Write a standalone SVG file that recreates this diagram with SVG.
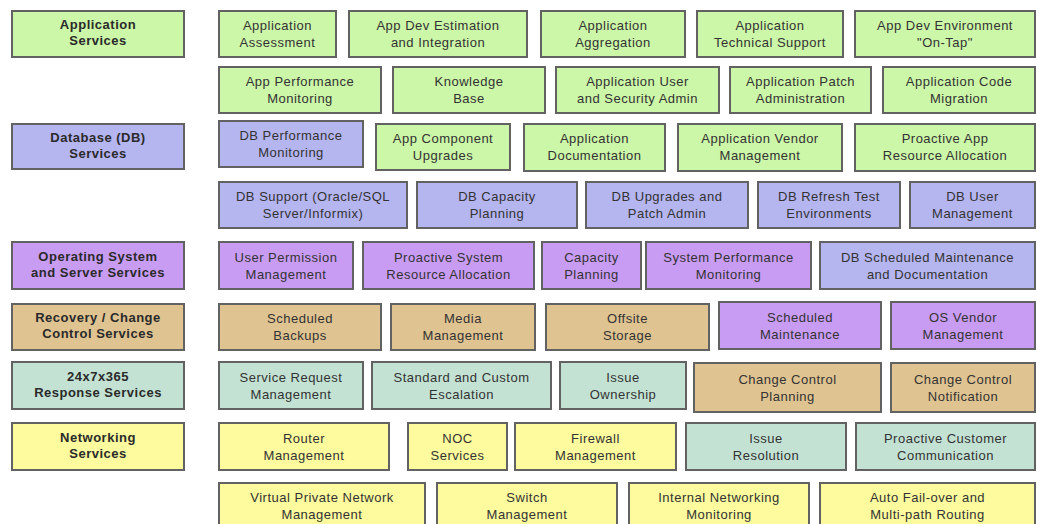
<svg xmlns="http://www.w3.org/2000/svg" width="1037" height="524" viewBox="0 0 1037 524">
<style>
rect{stroke:#626262;stroke-width:2}
.g{fill:#ccf6a8}.b{fill:#b5b5f0}.p{fill:#c99cf4}.t{fill:#dfc391}.c{fill:#c3e2d3}.y{fill:#fdfb9e}
text{font-family:"Liberation Sans",Arial,sans-serif;font-size:13px;letter-spacing:0.5px;fill:#333;text-anchor:middle}
.h{font-weight:bold;fill:#2a2a2a}
</style>
<rect x="0" y="0" width="1037" height="524" fill="#fff" style="stroke:none"/>
<g id="hdr-app"><rect class="g" x="12" y="11" width="172" height="46"/><text class="h" x="98" y="29">Application<tspan x="98" dy="16">Services</tspan></text></g>
<g id="hdr-db"><rect class="b" x="12" y="124" width="172" height="45"/><text class="h" x="98" y="142">Database (DB)<tspan x="98" dy="16">Services</tspan></text></g>
<g id="hdr-os"><rect class="p" x="12" y="242" width="172" height="47"/><text class="h" x="98" y="261">Operating System<tspan x="98" dy="16">and Server Services</tspan></text></g>
<g id="hdr-rec"><rect class="t" x="12" y="304" width="172" height="46"/><text class="h" x="98" y="322">Recovery / Change<tspan x="98" dy="16">Control Services</tspan></text></g>
<g id="hdr-resp"><rect class="c" x="12" y="362" width="172" height="47"/><text class="h" x="98" y="381">24x7x365<tspan x="98" dy="16">Response Services</tspan></text></g>
<g id="hdr-net"><rect class="y" x="12" y="423" width="172" height="47"/><text class="h" x="98" y="442">Networking<tspan x="98" dy="16">Services</tspan></text></g>

<g id="n-app-assess"><rect class="g" x="219" y="11" width="117" height="46"/><text x="277.5" y="30">Application<tspan x="277.5" dy="17">Assessment</tspan></text></g>
<g id="n-app-est"><rect class="g" x="349" y="11" width="178" height="46"/><text x="438" y="30">App Dev Estimation<tspan x="438" dy="17">and Integration</tspan></text></g>
<g id="n-app-agg"><rect class="g" x="541" y="11" width="144" height="46"/><text x="613" y="30">Application<tspan x="613" dy="17">Aggregation</tspan></text></g>
<g id="n-app-tech"><rect class="g" x="697" y="11" width="146" height="46"/><text x="770" y="30">Application<tspan x="770" dy="17">Technical Support</tspan></text></g>
<g id="n-app-env"><rect class="g" x="855" y="11" width="180" height="46"/><text x="945" y="30">App Dev Environment<tspan x="945" dy="17">"On-Tap"</tspan></text></g>

<g id="n-app-perf"><rect class="g" x="219" y="67" width="162" height="46"/><text x="300" y="86">App Performance<tspan x="300" dy="17">Monitoring</tspan></text></g>
<g id="n-kb"><rect class="g" x="393" y="67" width="152" height="46"/><text x="469" y="86">Knowledge<tspan x="469" dy="17">Base</tspan></text></g>
<g id="n-app-user"><rect class="g" x="556" y="67" width="163" height="46"/><text x="637.5" y="86">Application User<tspan x="637.5" dy="17">and Security Admin</tspan></text></g>
<g id="n-app-patch"><rect class="g" x="730" y="67" width="141" height="46"/><text x="800.5" y="86">Application Patch<tspan x="800.5" dy="17">Administration</tspan></text></g>
<g id="n-app-code"><rect class="g" x="883" y="67" width="152" height="46"/><text x="959" y="86">Application Code<tspan x="959" dy="17">Migration</tspan></text></g>

<g id="n-db-perf"><rect class="b" x="219" y="121" width="144" height="46"/><text x="291" y="140">DB Performance<tspan x="291" dy="17">Monitoring</tspan></text></g>
<g id="n-app-comp"><rect class="g" x="376" y="124" width="134" height="46"/><text x="443" y="143">App Component<tspan x="443" dy="17">Upgrades</tspan></text></g>
<g id="n-app-doc"><rect class="g" x="524" y="124" width="141" height="47"/><text x="594.5" y="143">Application<tspan x="594.5" dy="17">Documentation</tspan></text></g>
<g id="n-app-vendor"><rect class="g" x="678" y="124" width="164" height="47"/><text x="760" y="143">Application Vendor<tspan x="760" dy="17">Management</tspan></text></g>
<g id="n-app-res"><rect class="g" x="855" y="124" width="180" height="47"/><text x="945" y="143">Proactive App<tspan x="945" dy="17">Resource Allocation</tspan></text></g>

<g id="n-db-support"><rect class="b" x="219" y="182" width="188" height="46"/><text x="313" y="201">DB Support (Oracle/SQL<tspan x="313" dy="17">Server/Informix)</tspan></text></g>
<g id="n-db-cap"><rect class="b" x="417" y="182" width="160" height="46"/><text x="497" y="201">DB Capacity<tspan x="497" dy="17">Planning</tspan></text></g>
<g id="n-db-upg"><rect class="b" x="586" y="182" width="162" height="46"/><text x="667" y="201">DB Upgrades and<tspan x="667" dy="17">Patch Admin</tspan></text></g>
<g id="n-db-refresh"><rect class="b" x="758" y="182" width="142" height="46"/><text x="829" y="201">DB Refresh Test<tspan x="829" dy="17">Environments</tspan></text></g>
<g id="n-db-user"><rect class="b" x="910" y="182" width="125" height="46"/><text x="972.5" y="201">DB User<tspan x="972.5" dy="17">Management</tspan></text></g>

<g id="n-os-perm"><rect class="p" x="219" y="242" width="134" height="47"/><text x="286" y="262">User Permission<tspan x="286" dy="17">Management</tspan></text></g>
<g id="n-os-res"><rect class="p" x="363" y="242" width="171" height="47"/><text x="448.5" y="262">Proactive System<tspan x="448.5" dy="17">Resource Allocation</tspan></text></g>
<g id="n-os-cap"><rect class="p" x="542" y="242" width="99" height="47"/><text x="591.5" y="262">Capacity<tspan x="591.5" dy="17">Planning</tspan></text></g>
<g id="n-os-perf"><rect class="p" x="646" y="242" width="165" height="47"/><text x="728.5" y="262">System Performance<tspan x="728.5" dy="17">Monitoring</tspan></text></g>
<g id="n-db-sched"><rect class="b" x="820" y="242" width="215" height="47"/><text x="927.5" y="262">DB Scheduled Maintenance<tspan x="927.5" dy="17">and Documentation</tspan></text></g>

<g id="n-rec-backup"><rect class="t" x="219" y="304" width="162" height="46"/><text x="300" y="323">Scheduled<tspan x="300" dy="17">Backups</tspan></text></g>
<g id="n-rec-media"><rect class="t" x="391" y="304" width="144" height="46"/><text x="463" y="323">Media<tspan x="463" dy="17">Management</tspan></text></g>
<g id="n-rec-offsite"><rect class="t" x="546" y="304" width="163" height="46"/><text x="627.5" y="323">Offsite<tspan x="627.5" dy="17">Storage</tspan></text></g>
<g id="n-os-maint"><rect class="p" x="719" y="302" width="162" height="47"/><text x="800" y="322">Scheduled<tspan x="800" dy="17">Maintenance</tspan></text></g>
<g id="n-os-vendor"><rect class="p" x="891" y="302" width="144" height="47"/><text x="963" y="322">OS Vendor<tspan x="963" dy="17">Management</tspan></text></g>

<g id="n-resp-req"><rect class="c" x="219" y="362" width="144" height="47"/><text x="291" y="382">Service Request<tspan x="291" dy="17">Management</tspan></text></g>
<g id="n-resp-esc"><rect class="c" x="372" y="362" width="179" height="47"/><text x="461.5" y="382">Standard and Custom<tspan x="461.5" dy="17">Escalation</tspan></text></g>
<g id="n-resp-own"><rect class="c" x="560" y="362" width="126" height="47"/><text x="623" y="382">Issue<tspan x="623" dy="17">Ownership</tspan></text></g>
<g id="n-rec-ccplan"><rect class="t" x="694" y="363" width="187" height="49"/><text x="787.5" y="384">Change Control<tspan x="787.5" dy="17">Planning</tspan></text></g>
<g id="n-rec-ccnotif"><rect class="t" x="891" y="363" width="144" height="49"/><text x="963" y="384">Change Control<tspan x="963" dy="17">Notification</tspan></text></g>

<g id="n-net-router"><rect class="y" x="219" y="423" width="170" height="47"/><text x="304" y="443">Router<tspan x="304" dy="17">Management</tspan></text></g>
<g id="n-net-noc"><rect class="y" x="408" y="423" width="99" height="47"/><text x="457.5" y="443">NOC<tspan x="457.5" dy="17">Services</tspan></text></g>
<g id="n-net-fw"><rect class="y" x="515" y="423" width="161" height="47"/><text x="595.5" y="443">Firewall<tspan x="595.5" dy="17">Management</tspan></text></g>
<g id="n-resp-res"><rect class="c" x="686" y="423" width="160" height="47"/><text x="766" y="443">Issue<tspan x="766" dy="17">Resolution</tspan></text></g>
<g id="n-resp-comm"><rect class="c" x="856" y="423" width="179" height="47"/><text x="945.5" y="443">Proactive Customer<tspan x="945.5" dy="17">Communication</tspan></text></g>

<g id="n-net-vpn"><rect class="y" x="219" y="483" width="206" height="50"/><text x="322" y="502">Virtual Private Network<tspan x="322" dy="17">Management</tspan></text></g>
<g id="n-net-switch"><rect class="y" x="437" y="483" width="180" height="50"/><text x="527" y="502">Switch<tspan x="527" dy="17">Management</tspan></text></g>
<g id="n-net-int"><rect class="y" x="629" y="483" width="180" height="50"/><text x="719" y="502">Internal Networking<tspan x="719" dy="17">Monitoring</tspan></text></g>
<g id="n-net-fail"><rect class="y" x="820" y="483" width="215" height="50"/><text x="927.5" y="502">Auto Fail-over and<tspan x="927.5" dy="17">Multi-path Routing</tspan></text></g>
<g id="connectors"/>
</svg>
